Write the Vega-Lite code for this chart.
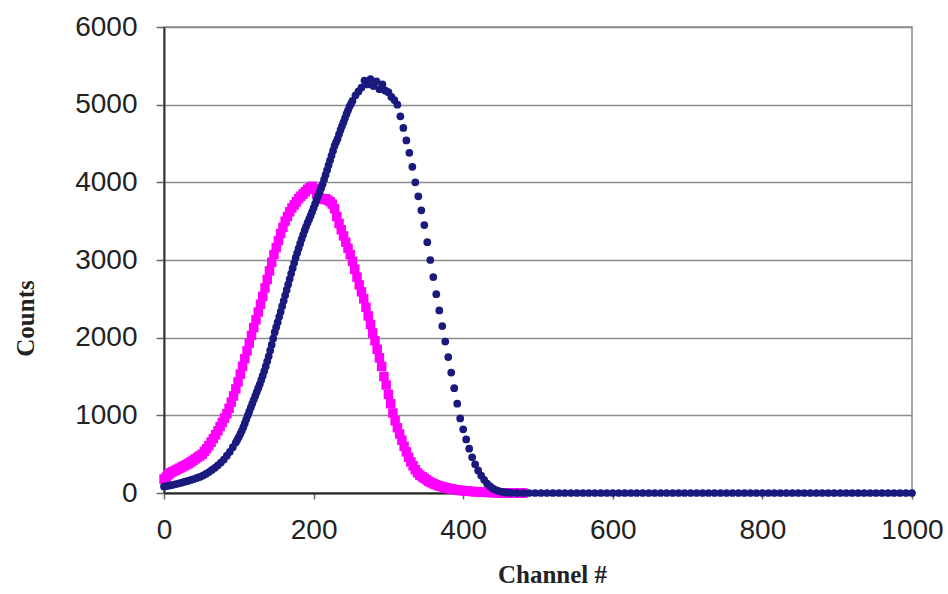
{
  "$schema": "https://vega.github.io/schema/vega-lite/v6.json",
  "autosize": {"type": "none"},
  "padding": {"left": 164, "top": 27, "right": 36, "bottom": 101},
  "width": 748,
  "height": 466,
  "background": "#ffffff",
  "config": {"view": {"stroke": "#8c8c8c", "strokeWidth": 1.5}},
  "datasets": {
    "m": [
      {"ch":0,"c":180},{"ch":3,"c":205},{"ch":6,"c":235},{"ch":9,"c":260},{"ch":12,"c":275},{"ch":15,"c":290},{"ch":18,"c":305},{"ch":21,"c":320},{"ch":24,"c":335},{"ch":27,"c":350},{"ch":30,"c":365},{"ch":33,"c":380},{"ch":36,"c":400},{"ch":39,"c":420},{"ch":42,"c":440},{"ch":45,"c":460},{"ch":48,"c":478},{"ch":51,"c":500},{"ch":54,"c":535},{"ch":57,"c":570},{"ch":60,"c":610},{"ch":63,"c":655},{"ch":66,"c":700},{"ch":69,"c":750},{"ch":72,"c":800},{"ch":75,"c":855},{"ch":78,"c":910},{"ch":81,"c":965},{"ch":84,"c":1020},{"ch":87,"c":1090},{"ch":90,"c":1170},{"ch":93,"c":1250},{"ch":96,"c":1340},{"ch":99,"c":1430},{"ch":102,"c":1530},{"ch":105,"c":1630},{"ch":108,"c":1730},{"ch":111,"c":1830},{"ch":114,"c":1930},{"ch":117,"c":2030},{"ch":120,"c":2130},{"ch":123,"c":2230},{"ch":126,"c":2330},{"ch":129,"c":2430},{"ch":132,"c":2530},{"ch":135,"c":2640},{"ch":138,"c":2750},{"ch":141,"c":2860},{"ch":144,"c":2970},{"ch":147,"c":3070},{"ch":150,"c":3160},{"ch":153,"c":3250},{"ch":156,"c":3340},{"ch":159,"c":3420},{"ch":162,"c":3500},{"ch":165,"c":3560},{"ch":168,"c":3620},{"ch":171,"c":3670},{"ch":174,"c":3710},{"ch":177,"c":3750},{"ch":180,"c":3790},{"ch":183,"c":3820},{"ch":186,"c":3850},{"ch":189,"c":3880},{"ch":192,"c":3910},{"ch":195,"c":3930},{"ch":198,"c":3950},{"ch":201,"c":3920},{"ch":204,"c":3850},{"ch":207,"c":3800},{"ch":210,"c":3790},{"ch":213,"c":3780},{"ch":216,"c":3790},{"ch":219,"c":3770},{"ch":222,"c":3750},{"ch":225,"c":3720},{"ch":228,"c":3660},{"ch":231,"c":3560},{"ch":234,"c":3470},{"ch":237,"c":3390},{"ch":240,"c":3310},{"ch":243,"c":3230},{"ch":246,"c":3150},{"ch":249,"c":3070},{"ch":252,"c":2980},{"ch":255,"c":2880},{"ch":258,"c":2780},{"ch":261,"c":2680},{"ch":264,"c":2590},{"ch":267,"c":2500},{"ch":270,"c":2390},{"ch":273,"c":2280},{"ch":276,"c":2170},{"ch":279,"c":2060},{"ch":282,"c":1960},{"ch":285,"c":1850},{"ch":288,"c":1740},{"ch":291,"c":1630},{"ch":294,"c":1500},{"ch":297,"c":1390},{"ch":300,"c":1270},{"ch":303,"c":1150},{"ch":306,"c":1030},{"ch":309,"c":930},{"ch":312,"c":840},{"ch":315,"c":760},{"ch":318,"c":680},{"ch":321,"c":600},{"ch":324,"c":530},{"ch":327,"c":460},{"ch":330,"c":400},{"ch":333,"c":350},{"ch":336,"c":300},{"ch":339,"c":260},{"ch":342,"c":230},{"ch":345,"c":210},{"ch":348,"c":190},{"ch":351,"c":170},{"ch":354,"c":150},{"ch":357,"c":135},{"ch":360,"c":120},{"ch":363,"c":108},{"ch":366,"c":97},{"ch":369,"c":88},{"ch":372,"c":80},{"ch":375,"c":72},{"ch":378,"c":65},{"ch":381,"c":58},{"ch":384,"c":52},{"ch":387,"c":47},{"ch":390,"c":42},{"ch":393,"c":38},{"ch":396,"c":34},{"ch":399,"c":31},{"ch":402,"c":28},{"ch":405,"c":25},{"ch":408,"c":22},{"ch":411,"c":20},{"ch":414,"c":18},{"ch":417,"c":16},{"ch":420,"c":14},{"ch":423,"c":12},{"ch":426,"c":10},{"ch":429,"c":9},{"ch":432,"c":8},{"ch":435,"c":7},{"ch":438,"c":6},{"ch":441,"c":5},{"ch":444,"c":4},{"ch":447,"c":3},{"ch":450,"c":2},{"ch":453,"c":1},{"ch":456,"c":1},{"ch":459,"c":0},{"ch":462,"c":0},{"ch":465,"c":0},{"ch":468,"c":0},{"ch":471,"c":0},{"ch":474,"c":0},{"ch":477,"c":0},{"ch":480,"c":0}
    ],
    "b": [
      {"ch":0,"c":85},{"ch":4,"c":90},{"ch":8,"c":97},{"ch":12,"c":105},{"ch":16,"c":115},{"ch":20,"c":125},{"ch":24,"c":135},{"ch":28,"c":145},{"ch":32,"c":156},{"ch":36,"c":168},{"ch":40,"c":180},{"ch":44,"c":194},{"ch":48,"c":207},{"ch":52,"c":225},{"ch":56,"c":246},{"ch":60,"c":270},{"ch":64,"c":297},{"ch":68,"c":325},{"ch":72,"c":356},{"ch":76,"c":392},{"ch":80,"c":430},{"ch":84,"c":480},{"ch":88,"c":530},{"ch":92,"c":590},{"ch":96,"c":650},{"ch":98,"c":685},{"ch":100,"c":720},{"ch":102,"c":760},{"ch":104,"c":800},{"ch":106,"c":848},{"ch":108,"c":895},{"ch":110,"c":948},{"ch":112,"c":1000},{"ch":114,"c":1050},{"ch":116,"c":1100},{"ch":118,"c":1150},{"ch":120,"c":1200},{"ch":122,"c":1250},{"ch":124,"c":1300},{"ch":126,"c":1350},{"ch":128,"c":1400},{"ch":130,"c":1455},{"ch":132,"c":1510},{"ch":134,"c":1570},{"ch":136,"c":1630},{"ch":138,"c":1695},{"ch":140,"c":1760},{"ch":142,"c":1835},{"ch":144,"c":1910},{"ch":146,"c":1990},{"ch":148,"c":2070},{"ch":150,"c":2135},{"ch":152,"c":2200},{"ch":154,"c":2268},{"ch":156,"c":2335},{"ch":158,"c":2405},{"ch":160,"c":2475},{"ch":162,"c":2545},{"ch":164,"c":2615},{"ch":166,"c":2685},{"ch":168,"c":2755},{"ch":170,"c":2825},{"ch":172,"c":2895},{"ch":174,"c":2962},{"ch":176,"c":3030},{"ch":178,"c":3090},{"ch":180,"c":3150},{"ch":182,"c":3210},{"ch":184,"c":3270},{"ch":186,"c":3325},{"ch":188,"c":3380},{"ch":190,"c":3430},{"ch":192,"c":3480},{"ch":194,"c":3525},{"ch":196,"c":3570},{"ch":198,"c":3620},{"ch":200,"c":3670},{"ch":202,"c":3722},{"ch":204,"c":3775},{"ch":206,"c":3825},{"ch":208,"c":3875},{"ch":210,"c":3925},{"ch":212,"c":3975},{"ch":214,"c":4035},{"ch":216,"c":4095},{"ch":218,"c":4158},{"ch":220,"c":4220},{"ch":222,"c":4283},{"ch":224,"c":4345},{"ch":226,"c":4408},{"ch":228,"c":4470},{"ch":230,"c":4515},{"ch":232,"c":4560},{"ch":234,"c":4618},{"ch":236,"c":4675},{"ch":238,"c":4725},{"ch":240,"c":4775},{"ch":242,"c":4828},{"ch":244,"c":4880},{"ch":246,"c":4928},{"ch":248,"c":4975},{"ch":250,"c":5012},{"ch":252,"c":5050},{"ch":256,"c":5120},{"ch":260,"c":5170},{"ch":264,"c":5220},{"ch":268,"c":5310},{"ch":272,"c":5260},{"ch":276,"c":5330},{"ch":280,"c":5240},{"ch":284,"c":5300},{"ch":288,"c":5200},{"ch":292,"c":5260},{"ch":296,"c":5180},{"ch":300,"c":5160},{"ch":304,"c":5100},{"ch":308,"c":5060},{"ch":312,"c":5000},{"ch":316,"c":4850},{"ch":320,"c":4700},{"ch":324,"c":4540},{"ch":328,"c":4380},{"ch":332,"c":4200},{"ch":336,"c":4000},{"ch":340,"c":3820},{"ch":344,"c":3640},{"ch":348,"c":3450},{"ch":352,"c":3230},{"ch":356,"c":3000},{"ch":360,"c":2780},{"ch":364,"c":2560},{"ch":368,"c":2350},{"ch":372,"c":2150},{"ch":376,"c":1950},{"ch":380,"c":1750},{"ch":384,"c":1550},{"ch":388,"c":1350},{"ch":392,"c":1150},{"ch":396,"c":960},{"ch":400,"c":820},{"ch":404,"c":690},{"ch":408,"c":570},{"ch":412,"c":460},{"ch":416,"c":370},{"ch":420,"c":290},{"ch":424,"c":225},{"ch":428,"c":170},{"ch":432,"c":120},{"ch":436,"c":85},{"ch":440,"c":55},{"ch":444,"c":38},{"ch":448,"c":25},{"ch":452,"c":15},{"ch":456,"c":8},{"ch":460,"c":4},
      {"ch":464,"c":2},{"ch":472,"c":1},{"ch":480,"c":0},{"ch":488,"c":0},{"ch":496,"c":0},{"ch":504,"c":0},{"ch":512,"c":0},{"ch":520,"c":0},{"ch":528,"c":0},{"ch":536,"c":0},{"ch":544,"c":0},{"ch":552,"c":0},{"ch":560,"c":0},{"ch":568,"c":0},{"ch":576,"c":0},{"ch":584,"c":0},{"ch":592,"c":0},{"ch":600,"c":0},{"ch":608,"c":0},{"ch":616,"c":0},{"ch":624,"c":0},{"ch":632,"c":0},{"ch":640,"c":0},{"ch":648,"c":0},{"ch":656,"c":0},{"ch":664,"c":0},{"ch":672,"c":0},{"ch":680,"c":0},{"ch":688,"c":0},{"ch":696,"c":0},{"ch":704,"c":0},{"ch":712,"c":0},{"ch":720,"c":0},{"ch":728,"c":0},{"ch":736,"c":0},{"ch":744,"c":0},{"ch":752,"c":0},{"ch":760,"c":0},{"ch":768,"c":0},{"ch":776,"c":0},{"ch":784,"c":0},{"ch":792,"c":0},{"ch":800,"c":0},{"ch":808,"c":0},{"ch":816,"c":0},{"ch":824,"c":0},{"ch":832,"c":0},{"ch":840,"c":0},{"ch":848,"c":0},{"ch":856,"c":0},{"ch":864,"c":0},{"ch":872,"c":0},{"ch":880,"c":0},{"ch":888,"c":0},{"ch":896,"c":0},{"ch":904,"c":0},{"ch":912,"c":0},{"ch":920,"c":0},{"ch":928,"c":0},{"ch":936,"c":0},{"ch":944,"c":0},{"ch":952,"c":0},{"ch":960,"c":0},{"ch":968,"c":0},{"ch":976,"c":0},{"ch":984,"c":0},{"ch":992,"c":0},{"ch":1000,"c":0}
    ]
  },
  "encoding": {
    "x": {
      "field": "ch", "type": "quantitative",
      "scale": {"domain": [0, 1000], "nice": false, "zero": false},
      "axis": {
        "values": [0, 200, 400, 600, 800, 1000],
        "format": "d",
        "title": "Channel #",
        "grid": false,
        "domainColor": "#222222", "domainWidth": 2,
        "tickColor": "#666666", "tickSize": 6, "tickWidth": 1.5,
        "labelFont": "Liberation Sans", "labelFontSize": 28, "labelColor": "#222222",
        "labelPadding": 17, "labelFlush": false, "labelOverlap": false, "labelBound": false,
        "titleFont": "Liberation Serif", "titleFontWeight": "bold", "titleFontSize": 25, "titleColor": "#222222",
        "titleX": 388, "titleY": 89, "titleBaseline": "alphabetic", "titleAlign": "center"
      }
    },
    "y": {
      "field": "c", "type": "quantitative",
      "scale": {"domain": [0, 6000], "nice": false},
      "axis": {
        "values": [0, 1000, 2000, 3000, 4000, 5000, 6000],
        "format": "d",
        "title": "Counts",
        "grid": true, "gridColor": "#8c8c8c", "gridWidth": 1.5,
        "domainColor": "#333333", "domainWidth": 2,
        "tickColor": "#666666", "tickSize": 8, "tickWidth": 1.5,
        "labelFont": "Liberation Sans", "labelFontSize": 28, "labelColor": "#222222",
        "labelPadding": 19, "labelFlush": false, "labelOverlap": false, "labelBound": false,
        "titleFont": "Liberation Serif", "titleFontWeight": "bold", "titleFontSize": 25, "titleColor": "#222222",
        "titleAngle": -90, "titleX": -131, "titleY": 291, "titleBaseline": "alphabetic", "titleAlign": "center"
      }
    }
  },
  "layer": [
    {
      "data": {"name": "m"},
      "mark": {"type": "point", "shape": "square", "filled": true, "size": 90, "color": "#ff00ff", "opacity": 1}
    },
    {
      "data": {"name": "b"},
      "mark": {"type": "point", "shape": "circle", "filled": true, "size": 60, "color": "#1a1a7e", "opacity": 1}
    }
  ]
}
